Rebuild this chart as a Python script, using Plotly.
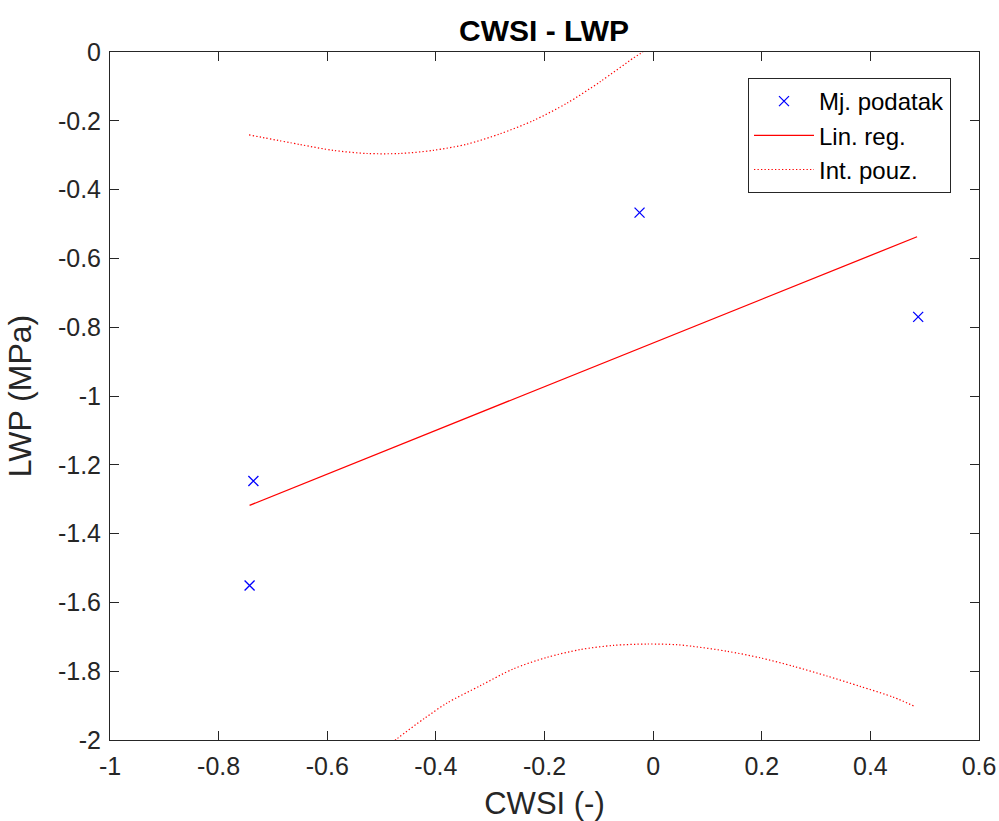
import plotly.graph_objects as go

# Measured data
cwsi = [-0.736, -0.743, -0.025, 0.488]
lwp = [-1.247, -1.551, -0.467, -0.770]

# Linear regression line (endpoints)
reg_x = [-0.743, 0.486]
reg_y = [-1.318, -0.537]

# Prediction interval - upper branch
up_x = [-0.744, -0.650, -0.589, -0.527, -0.466, -0.405, -0.343, -0.282, -0.220,
        -0.159, -0.097, -0.036, -0.024, 0.02, 0.10]
up_y = [-0.241, -0.269, -0.286, -0.295, -0.295, -0.286, -0.268, -0.238, -0.199,
        -0.149, -0.086, -0.017, -0.005, 0.05, 0.17]

# Prediction interval - lower branch
lo_x = [-0.52, -0.472, -0.420, -0.380, -0.318, -0.257, -0.196, -0.134, -0.073,
        -0.011, 0.044, 0.074, 0.136, 0.197, 0.259, 0.320, 0.381, 0.443, 0.481]
lo_y = [-2.06, -1.997, -1.936, -1.893, -1.842, -1.793, -1.760, -1.737, -1.725,
        -1.721, -1.723, -1.728, -1.742, -1.761, -1.786, -1.814, -1.844, -1.876, -1.902]

x_ticks = [-1, -0.8, -0.6, -0.4, -0.2, 0, 0.2, 0.4, 0.6]
x_labels = ["-1", "-0.8", "-0.6", "-0.4", "-0.2", "0", "0.2", "0.4", "0.6"]
y_ticks = [-2, -1.8, -1.6, -1.4, -1.2, -1, -0.8, -0.6, -0.4, -0.2, 0]
y_labels = ["-2", "-1.8", "-1.6", "-1.4", "-1.2", "-1", "-0.8", "-0.6", "-0.4", "-0.2", "0"]

TXT = "#262626"
FONT = "Liberation Sans, Arial, sans-serif"
DOT = "1.3px,2.2px"

fig = go.Figure()
fig.add_trace(go.Scatter(
    x=cwsi, y=lwp, mode="markers", name="Mj. podatak",
    marker=dict(symbol="x-thin", size=10, color="blue",
                line=dict(color="blue", width=1.3)),
))
fig.add_trace(go.Scatter(
    x=reg_x, y=reg_y, mode="lines", name="Lin. reg.",
    line=dict(color="red", width=1.3),
))
fig.add_trace(go.Scatter(
    x=up_x, y=up_y, mode="lines", name="Int. pouz.",
    line=dict(color="red", width=1.2, dash=DOT, shape="spline", smoothing=0.8),
    legendgroup="int",
))
fig.add_trace(go.Scatter(
    x=lo_x, y=lo_y, mode="lines", name="Int. pouz.", showlegend=False,
    line=dict(color="red", width=1.2, dash=DOT, shape="spline", smoothing=0.8),
    legendgroup="int",
))

axis_common = dict(
    showgrid=False, zeroline=False, showline=True, linecolor=TXT, linewidth=1,
    mirror="ticks", ticks="inside", ticklen=9, tickwidth=1, tickcolor=TXT,
    tickfont=dict(family=FONT, size=25, color=TXT), automargin=False,
)

W, H = 999, 821
L, T = 110, 52
PW, PH = 869, 688

fig.update_layout(
    width=W, height=H,
    paper_bgcolor="white", plot_bgcolor="white",
    margin=dict(l=L, r=W - L - PW, t=T, b=H - T - PH),
    title=dict(text="<b>CWSI - LWP</b>", x=544 / W, xanchor="center",
               y=1 - 30 / H, yanchor="middle",
               font=dict(family=FONT, size=30, color="black")),
    xaxis=dict(range=[-1, 0.6], tickvals=x_ticks, ticktext=x_labels,
               ticklabelstandoff=4,
               title=dict(text="CWSI (-)", font=dict(family=FONT, size=31, color=TXT), standoff=22),
               **axis_common),
    yaxis=dict(range=[-2, 0], tickvals=y_ticks, ticktext=y_labels,
               ticklabelstandoff=3,
               title=dict(text="LWP (MPa)", font=dict(family=FONT, size=32, color=TXT), standoff=16),
               **axis_common),
    legend=dict(x=(951 - L) / PW, xanchor="right", y=1 - (78 - T) / PH, yanchor="top",
                bgcolor="white", bordercolor=TXT, borderwidth=1,
                font=dict(family=FONT, size=24, color="black"),
                itemwidth=60, tracegroupgap=0),
    showlegend=True,
)

post = ("document.body.style.margin='0';"
        "document.body.style.overflow='hidden';"
        "document.documentElement.style.overflow='hidden';")

fig.write_html("out.html", post_script=post, config={"displayModeBar": False})
